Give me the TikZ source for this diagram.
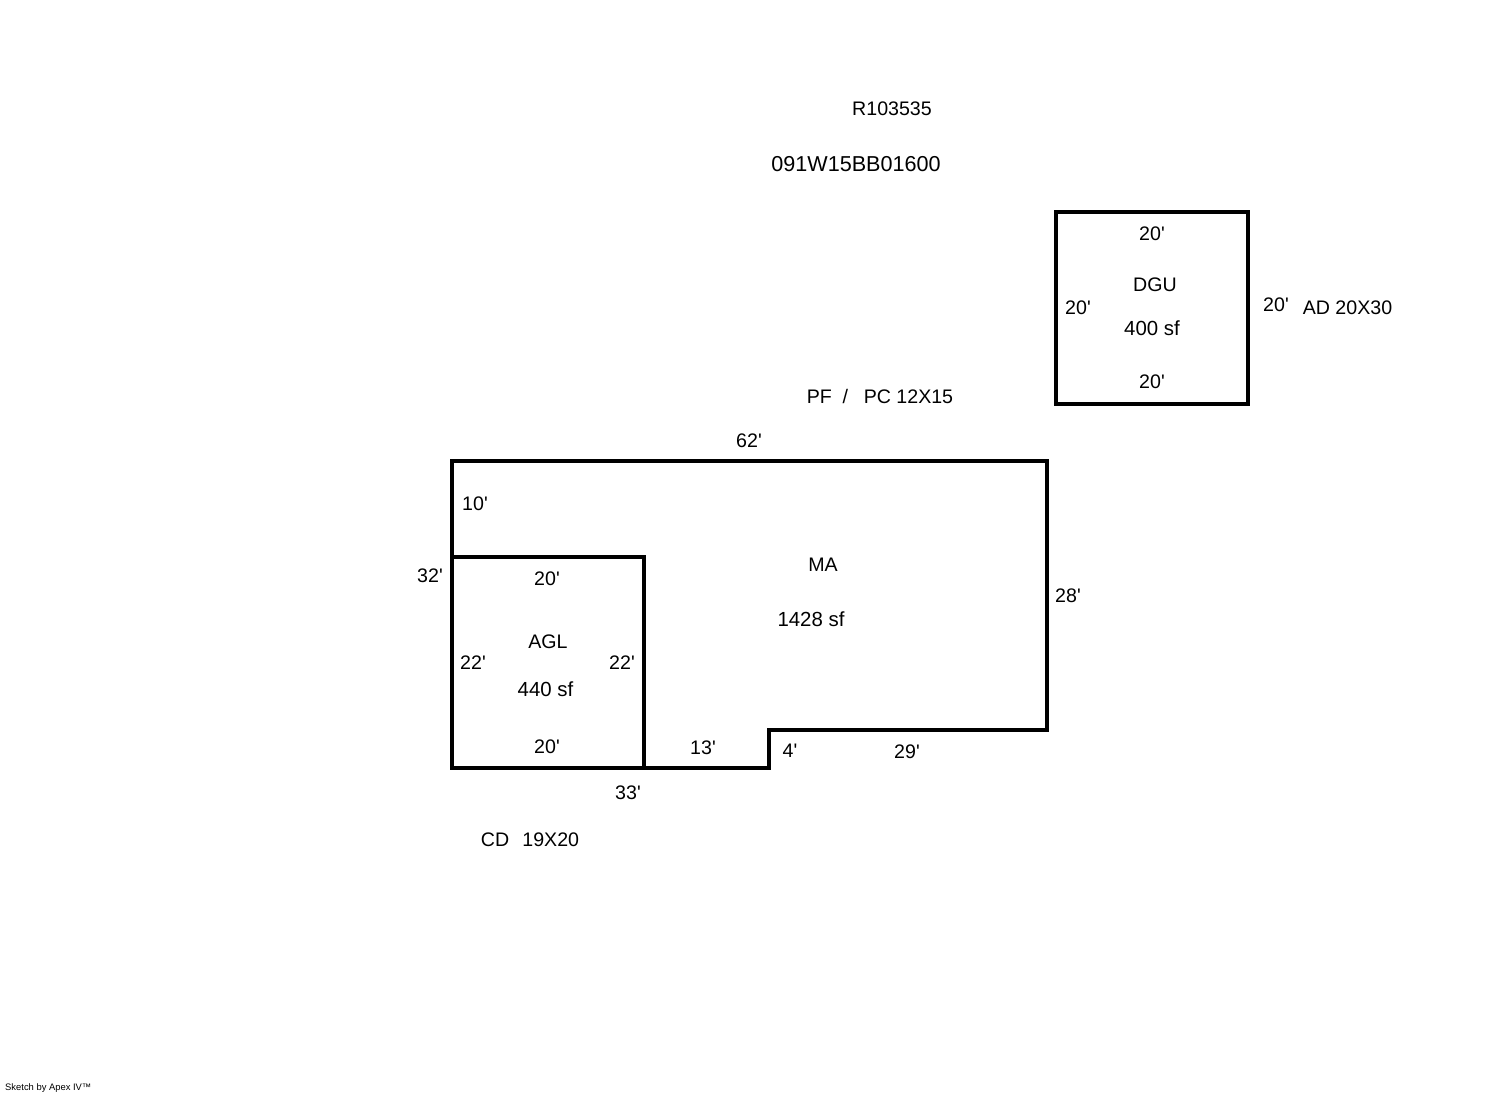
\documentclass[tikz,border=0pt]{standalone}
\usepackage{fontspec}
\setmainfont{Liberation Sans}[Ligatures=TeXOff]
\begin{document}
\begin{tikzpicture}[x=1pt,y=-1pt,
  wall/.style={draw=black,line width=4pt,miter limit=10},
  lbl/.style={font=\fontsize{19.6}{22}\selectfont,inner sep=0pt,text=black},
  wide/.style={font=\fontsize{20.4}{22}\selectfont,inner sep=0pt,text=black},
  big/.style={font=\fontsize{21.6}{24}\selectfont,inner sep=0pt,text=black},
  small/.style={font=\fontsize{9.4}{11}\selectfont,inner sep=0pt,text=black}]
\useasboundingbox[fill=white] (0,0) rectangle (1492,1094);
\draw[wall,line cap=rect] (1056,212) rectangle (1248,403.5);
\draw[wall] (452,461) -- (1047,461) -- (1047,730) -- (768.5,730) -- (768.5,768) -- (452,768) -- cycle;
\draw[wall,line cap=rect] (452,557) -- (644,557) -- (644,768);
\node[lbl] (a1) at (892,109) {R103535};
\node[big] (a2) at (856,164) {091W15BB01600};
\node[lbl] (a3) at (1152,234) {20'};
\node[lbl] (a4) at (1155,285) {DGU};
\node[lbl] (a5) at (1078,308) {20'};
\node[lbl] (a6) at (1276,305) {20'};
\node[lbl] (a7) at (1347.5,308) {AD 20X30};
\node[wide] (a8) at (1152,328) {400 sf};
\node[lbl] (a9) at (1152,382) {20'};
\node[lbl] (b1) at (880,396) {PF\hspace{0.55em}/\hspace{0.8em}PC 12X15};
\node[lbl] (b2) at (749,441) {62'};
\node[lbl] (b3) at (475,504) {10'};
\node[lbl] (b4) at (823,565) {MA};
\node[lbl] (b5) at (430,576) {32'};
\node[lbl] (b6) at (547,579) {20'};
\node[lbl] (b7) at (1068,596) {28'};
\node[wide] (b8) at (811,619) {1428 sf};
\node[lbl] (c1) at (548,642) {AGL};
\node[lbl] (c2) at (473,663) {22'};
\node[lbl] (c3) at (622,663) {22'};
\node[wide] (c4) at (545.5,689) {440 sf};
\node[lbl] (c5) at (547,747) {20'};
\node[lbl] (c6) at (703,748) {13'};
\node[lbl] (c7) at (790,751) {4'};
\node[lbl] (c8) at (907,752) {29'};
\node[lbl] (c9) at (628,793) {33'};
\node[lbl] (d1) at (530,840) {CD\hspace{0.4em} 19X20};
\node[small,anchor=west] (d2) at (5,1088) {Sketch by Apex IV™};
\end{tikzpicture}
\end{document}
